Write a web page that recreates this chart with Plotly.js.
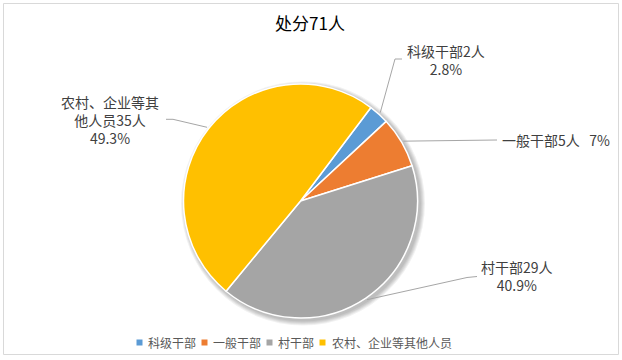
<!DOCTYPE html>
<html><head><meta charset="utf-8">
<script src="https://cdn.plot.ly/plotly-3.0.1.min.js"></script>
<style>html,body{margin:0;padding:0;background:#fff}</style>
</head><body><div id="chart" style="width:622px;height:360px"></div>
<script>
// ---- data ----
const categories = ['科级干部', '一般干部', '村干部', '农村、企业等其他人员'];
const labelNames = ['科级干部', '一般干部', '村干部', '农村、企业等其<br>他人员'];
const counts = [2, 5, 29, 35];
const percentLabels = ['2.8%', '7%', '40.9%', '49.3%'];
const titleText = '处分71人';

// ---- styles / layout ----
const colors = ['#5B9BD5', '#ED7D31', '#A5A5A5', '#FFC000'];
const W = 622, H = 360;
const CX = 300.5, CY = 201, R = 117;
const ROT = 37;
const FONT = '"Noto Sans CJK SC", "Noto Sans", sans-serif';
// label boxes (centre) and extra leader-line points, in pixels
const labelPlace = [
  {x: 446, y: 60, sep: '<br>', anchor: 'center', via: [[395, 59], [402, 59]]},
  {x: 500, y: 140, sep: '\u00a0\u00a0\u00a0', anchor: 'left', via: [[497, 140]]},
  {x: 517, y: 276, sep: '<br>', anchor: 'center', via: [[467, 277.5], [477, 276.5]]},
  {x: 110, y: 120, sep: '<br>', anchor: 'center', via: [[173, 119.3], [166, 119.3]]}
];

const px = x => x / W;
const py = y => 1 - y / H;

const total = counts.reduce((a, b) => a + b, 0);
const shapes = [];
const annotations = [];

// chart border
shapes.push({type: 'rect', xref: 'paper', yref: 'paper', x0: px(3.5), x1: px(618.5), y0: py(354.5), y1: py(3.5),
  line: {color: '#D9D9D9', width: 1}, fillcolor: 'rgba(0,0,0,0)', layer: 'below'});

// soft shadow behind the pie
[5, 4, 3, 2, 1].forEach(d => {
  const r = R + d, ox = CX + 2.5, oy = CY + 2.5;
  shapes.push({type: 'circle', xref: 'paper', yref: 'paper', x0: px(ox - r), x1: px(ox + r), y0: py(oy + r), y1: py(oy - r),
    fillcolor: 'rgba(0,0,0,0.055)', line: {width: 0}, layer: 'below'});
});

// data labels + leader lines
let cum = 0;
counts.forEach((v, i) => {
  const mid = (ROT + (cum + v / 2) / total * 360) * Math.PI / 180;
  cum += v;
  const ex = CX + (R + 2) * Math.sin(mid), ey = CY - (R + 2) * Math.cos(mid);
  const pts = [[ex, ey]].concat(labelPlace[i].via);
  const path = pts.map((p, k) => (k ? 'L' : 'M') + px(p[0]) + ',' + py(p[1])).join(' ');
  shapes.push({type: 'path', xref: 'paper', yref: 'paper', path: path, line: {color: '#A6A6A6', width: 1}, layer: 'above'});
  const lp = labelPlace[i];
  annotations.push({xref: 'paper', yref: 'paper', x: px(lp.x), y: py(lp.y), xanchor: lp.anchor, yanchor: 'middle',
    showarrow: false, align: 'center',
    text: labelNames[i] + counts[i] + '人' + lp.sep + percentLabels[i],
    font: {family: FONT, size: 14, color: '#404040'}});
});

// custom legend
const ctx = document.createElement('canvas').getContext('2d');
ctx.font = '12px "Noto Sans CJK SC"';
const SQ = 6, GAP1 = 5, GAP2 = 6, LEGY = 342.5;
const widths = categories.map(c => ctx.measureText(c).width);
const legW = widths.reduce((a, w) => a + SQ + GAP1 + w, 0) + GAP2 * (categories.length - 1);
let lx = 293.5 - legW / 2;
categories.forEach((c, i) => {
  shapes.push({type: 'rect', xref: 'paper', yref: 'paper', x0: px(lx), x1: px(lx + SQ), y0: py(LEGY + SQ / 2), y1: py(LEGY - SQ / 2),
    fillcolor: colors[i], line: {width: 0}, layer: 'above'});
  annotations.push({xref: 'paper', yref: 'paper', x: px(lx + SQ + GAP1 - 1), y: py(LEGY), xanchor: 'left', yanchor: 'middle',
    showarrow: false, text: c, font: {family: FONT, size: 12, color: '#595959'}});
  lx += SQ + GAP1 + widths[i] + GAP2;
});

const trace = {
  type: 'pie',
  values: counts,
  labels: categories,
  sort: false,
  direction: 'clockwise',
  rotation: ROT,
  textinfo: 'none',
  hoverinfo: 'skip',
  showlegend: false,
  marker: {colors: colors, line: {color: '#FFFFFF', width: 1.5}},
  domain: {x: [px(CX - R), px(CX + R)], y: [py(CY + R), py(CY - R)]}
};

const layout = {
  width: W, height: H,
  margin: {l: 0, r: 0, t: 0, b: 0},
  paper_bgcolor: '#FFFFFF',
  showlegend: false,
  font: {family: FONT},
  title: {text: titleText, x: 310 / W, xanchor: 'center', y: 1 - 24 / H, yanchor: 'middle',
    font: {family: FONT, size: 17, color: '#000000'}},
  shapes: shapes,
  annotations: annotations
};

Plotly.newPlot('chart', [trace], layout, {staticPlot: true, displayModeBar: false});
</script>
</body></html>
